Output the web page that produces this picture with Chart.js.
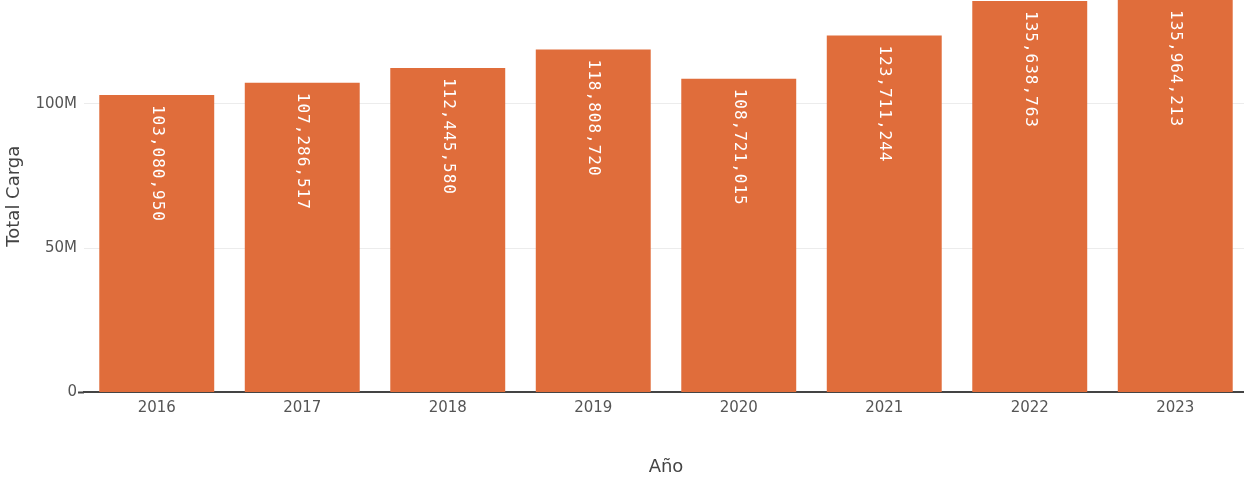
<!DOCTYPE html>
<html>
<head>
<meta charset="utf-8">
<script src="https://cdn.jsdelivr.net/npm/chart.js@4"></script>
<style>
  html, body { margin: 0; padding: 0; background: #fff; overflow: hidden; }
  #wrap { width: 1250px; height: 480px; }
</style>
</head>
<body>
<div id="wrap"><canvas id="cargaChart"></canvas></div>
<script>
// datos
const years = ['2016', '2017', '2018', '2019', '2020', '2021', '2022', '2023'];
const totalCarga = [103080950, 107286517, 112445580, 118808720, 108721015, 123711244, 135638763, 135964213];
const yTicks = [0, 50000000, 100000000];
const yTickLabels = ['0', '50M', '100M'];

// etiquetas dentro de las barras, rotadas 90 grados
const barLabels = {
    id: 'barLabels',
    afterDatasetsDraw(chart) {
        const ctx = chart.ctx;
        const meta = chart.getDatasetMeta(0);
        ctx.save();
        ctx.fillStyle = '#ffffff';
        ctx.font = '16px "DejaVu Sans Mono"';
        ctx.letterSpacing = '1px';
        ctx.textAlign = 'left';
        ctx.textBaseline = 'middle';
        meta.data.forEach((bar, i) => {
            ctx.save();
            ctx.translate(bar.x, bar.y + 10);
            ctx.rotate(Math.PI / 2);
            ctx.fillText(totalCarga[i].toLocaleString('en-US'), 0, 0);
            ctx.restore();
        });
        ctx.restore();
    }
};

new Chart(document.getElementById('cargaChart'), {
    type: 'bar',
    data: {
        labels: years,
        datasets: [{
            data: totalCarga,
            backgroundColor: '#e06d3b',
            barPercentage: 0.79,
            categoryPercentage: 1.0
        }]
    },
    options: {
        responsive: true,
        maintainAspectRatio: false,
        animation: false,
        layout: { padding: { top: 0, right: 2, bottom: 2, left: 0 } },
        plugins: {
            legend: { display: false },
            tooltip: { enabled: false }
        },
        scales: {
            x: {
                grid: { display: false, drawTicks: false },
                border: { display: true, color: '#444', width: 2 },
                ticks: { color: '#555', font: { family: 'DejaVu Sans', size: 15 }, padding: 7 },
                title: {
                    display: true, text: 'Año', color: '#444',
                    font: { family: 'DejaVu Sans', size: 18 },
                    padding: { top: 32, bottom: 0 }
                }
            },
            y: {
                min: 0,
                max: 136000000,
                afterBuildTicks(axis) { axis.ticks = yTicks.map(v => ({ value: v })); },
                afterFit(axis) { axis.width = 84; axis.paddingTop = 0; },
                grid: {
                    color: '#ececec',
                    drawTicks: true,
                    tickLength: 6,
                    tickColor: (c) => (c.tick && c.tick.value === 0 ? '#444' : 'rgba(0,0,0,0)'),
                    tickWidth: 2
                },
                border: { display: false },
                ticks: {
                    color: '#555', font: { family: 'DejaVu Sans', size: 15 }, padding: 1,
                    callback: (v) => yTickLabels[yTicks.indexOf(v)]
                },
                title: {
                    display: true, text: 'Total Carga', color: '#444',
                    font: { family: 'DejaVu Sans', size: 18 },
                    padding: { top: 4, bottom: 0 }
                }
            }
        }
    },
    plugins: [barLabels]
});
</script>
</body>
</html>
